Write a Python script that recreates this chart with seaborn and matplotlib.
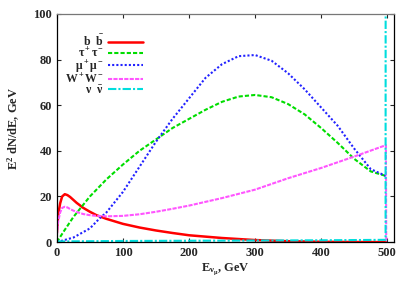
import numpy as np
import pandas as pd
import seaborn as sns
import matplotlib.pyplot as plt

# energies (GeV) and E^2 dN/dE values
x_bb = [0, 2, 5, 8, 12, 16, 20, 25, 30, 40, 50, 60, 75, 100, 125, 150, 175, 200, 250, 300, 350, 400, 450, 498]
y_bb = [4, 12, 17, 20, 21, 20.6, 19.8, 18.5, 17.2, 15, 13.3, 11.8, 10.2, 8, 6.4, 5.1, 4, 3, 1.8, 0.9, 0.4, 0.15, 0.05, 0]

x_tau = [0, 10, 25, 50, 75, 100, 125, 150, 175, 200, 225, 250, 275, 300, 325, 350, 375, 400, 425, 450, 475, 498]
y_tau = [0, 4.5, 11, 20, 27.5, 34, 40, 45, 50, 54, 58, 61.5, 63.8, 64.5, 63.5, 60.5, 56, 50, 43.5, 36.5, 31, 29]

x_mu = [0, 25, 50, 65, 75, 100, 125, 150, 175, 200, 225, 250, 275, 300, 325, 350, 375, 400, 425, 450, 475, 498]
y_mu = [0, 2, 6, 10.5, 13, 22, 33, 44, 54, 63, 72, 78, 81.5, 82, 79.5, 74, 67, 59, 51, 41, 32, 29]

x_ww = [0, 2, 5, 8, 12, 16, 20, 25, 30, 40, 50, 60, 75, 100, 125, 150, 175, 200, 250, 300, 350, 400, 450, 498, 498.5]
y_ww = [3, 9, 13, 15, 15.5, 15.2, 14.5, 13.8, 13.2, 12.3, 11.8, 11.5, 11.3, 11.5, 12.2, 13.3, 14.6, 16, 19.3, 23, 28, 32.5, 37.5, 42.5, 0]

x_nu = [0, 100, 200, 300, 400, 497.5, 497.6]
y_nu = [0.3, 0.5, 0.6, 0.7, 0.8, 1.0, 105]

labels = [r'$\mathrm{b\ \ \bar{b}}$', r'$\mathrm{τ^+τ^-}$', r'$\mathrm{μ^+μ^-}$',
          r'$\mathrm{W^+W^-}$', r'$\mathrm{ν\ \ \bar{ν}}$']

sns.set_theme(style='ticks')
plt.rcParams['font.family'] = ['Liberation Serif', 'DejaVu Serif']
plt.rcParams['font.weight'] = 'bold'
plt.rcParams['mathtext.fontset'] = 'custom'
plt.rcParams['mathtext.rm'] = 'Liberation Serif:bold'
plt.rcParams['mathtext.it'] = 'Liberation Serif:bold:italic'
plt.rcParams['mathtext.bf'] = 'Liberation Serif:bold'

fig, ax = plt.subplots(figsize=(4.15, 2.91), dpi=100)
fig.subplots_adjust(left=0.137, right=0.949, top=0.952, bottom=0.168)

series = [
    (x_bb, y_bb, '#ff0000', '-', 1.8),
    (x_tau, y_tau, '#00dd00', (0, (2, 1)), 1.5),
    (x_mu, y_mu, '#2222ff', (0, (1, 1)), 1.5),
    (x_ww, y_ww, '#ff55ff', (0, (2, 0.6)), 1.5),
    (x_nu, y_nu, '#00dddd', (0, (4, 1, 1, 1)), 1.5),
]
for (xs, ys, c, ls, lw), lab in zip(series, labels):
    df = pd.DataFrame({'E': xs, 'F': ys})
    sns.lineplot(data=df, x='E', y='F', ax=ax, color=c, linestyle=ls,
                 linewidth=lw, label=lab, sort=False, estimator=None)

ax.set_xlim(0, 510)
ax.set_ylim(0, 100)
ax.set_xticks([0, 100, 200, 300, 400, 500])
ax.set_yticks([0, 20, 40, 60, 80, 100])
ax.tick_params(direction='in', top=True, right=True, labelsize=9, length=3, width=0.8)
for lab in ax.get_xticklabels() + ax.get_yticklabels():
    lab.set_fontweight('bold')
for s in ['left', 'bottom', 'right']:
    ax.spines[s].set_color('black')
    ax.spines[s].set_linewidth(0.9)
ax.spines['top'].set_color('#777777')
ax.spines['top'].set_linewidth(0.9)

ax.set_xlabel(r'$\mathrm{E_{ν_μ}}$, GeV', fontsize=9, fontweight='bold', labelpad=2)
ax.set_ylabel(r'E$^2$ dN/dE, GeV', fontsize=9, fontweight='bold', labelpad=8)

leg = ax.legend(loc='upper left', bbox_to_anchor=(0.01, 0.935), frameon=False,
                markerfirst=False, fontsize=8.5, handlelength=2.9, handletextpad=0.4,
                labelspacing=-0.15, borderaxespad=0)

fig.savefig('out.png', dpi=100)
